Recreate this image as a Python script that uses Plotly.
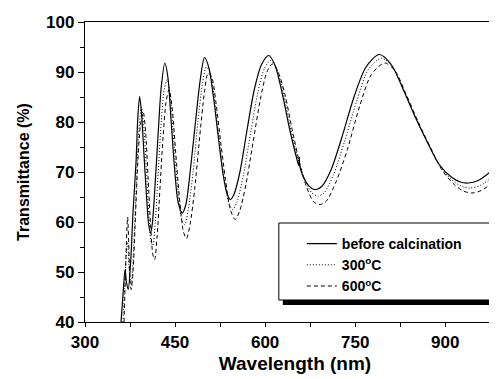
import plotly.graph_objects as go

# ---- data ----
wl_before = [360, 363, 366.7, 369, 372, 376, 380, 385, 388, 391, 394, 398, 402, 406, 409, 412, 417, 422, 427, 433,
             438, 443, 449, 455, 462, 468, 476, 484, 492, 499, 506, 514, 522, 530, 537, 542, 548, 558, 570, 582,
             594, 606, 616, 628, 640, 652, 656, 657, 658, 668, 678, 685, 695, 710, 728, 748, 768, 790, 810, 830,
             850, 870, 890, 910, 925, 938, 955, 975, 999]
t_before = [40, 45, 50.5, 48, 46.5, 52, 62, 72, 81, 85.1, 82, 74, 66, 59.5, 57.8, 59.5, 68, 78, 87, 91.8,
            89, 81, 71, 64, 61.8, 63.5, 71, 80, 88.5, 92.9, 91, 85, 77, 69.5, 65.5, 64.5, 65.5, 70, 78.5, 86.5,
            91.5, 93.3, 91.5, 86, 79, 73, 71.3, 73, 71, 68, 66.7, 66.5, 67.2, 70.5, 77, 85, 91, 93.5, 91.5, 86.5,
            81, 76, 71.5, 69, 68, 67.8, 68.3, 70, 72.5]

wl_300 = [363, 366, 369, 371, 374, 377, 381, 385, 389, 394, 398, 402, 406, 410, 413, 417, 422, 427, 432, 437,
          442, 448, 455, 461, 466, 472, 480, 488, 496, 502, 508, 515, 523, 531, 539, 546, 553, 564, 576, 588,
          599, 609, 618, 630, 642, 654, 666, 678, 688, 698, 714, 732, 752, 772, 794, 812, 832, 852, 872, 892,
          912, 928, 941, 958, 978, 999]
t_300 = [40, 47, 54, 56, 50, 47.5, 55, 66, 77, 83, 79, 71, 62, 56, 55.3, 60, 70, 80, 86.5, 88.5,
         85, 76, 66, 60.5, 59.5, 62.5, 70, 80, 88, 91, 90, 85, 77, 69.5, 64, 62.5, 64, 69.5, 78, 86,
         90.8, 92.3, 91, 86, 79, 73, 68.5, 65.8, 65.2, 65.8, 69.5, 76, 84, 90.5, 92.8, 91, 86, 80.5, 75.5, 71,
         68.3, 67.1, 66.8, 67.3, 69, 71.3]

wl_600 = [365, 367, 369, 371, 373, 375, 377, 380, 384, 388, 392, 397, 401, 405, 409, 413, 416, 420, 425, 430,
          435, 440, 445, 451, 458, 464, 469, 475, 483, 491, 499, 505, 511, 518, 526, 534, 542, 550, 557, 568,
          580, 592, 603, 612, 621, 633, 645, 657, 669, 681, 692, 702, 718, 737, 757, 777, 799, 816, 835, 855,
          875, 895, 915, 930, 944, 960, 980, 999]
t_600 = [40, 48, 56, 61, 55, 48, 46.5, 50, 61, 72, 79, 82, 78, 69, 60, 53.5, 52.5, 57, 67, 77,
         84, 86.5, 83, 74, 64, 58, 56.7, 59.5, 67, 77, 86, 89.8, 89, 84, 76, 68.5, 62.5, 60.5, 62, 67.5,
         76, 84.5, 90, 91.6, 90.2, 85.5, 78.5, 72, 67, 64, 63.5, 64.2, 68, 74.5, 83, 89.5, 91.8, 90.3, 85.5, 80,
         75, 70.3, 67.5, 66.2, 65.8, 66.3, 68, 70]

x_ticks = [300, 450, 600, 750, 900]
y_ticks = [40, 50, 60, 70, 80, 90, 100]

FONT = "Liberation Sans, Arial, Helvetica, sans-serif"

fig = go.Figure()
fig.add_trace(go.Scatter(x=wl_before, y=t_before, mode="lines", name="before calcination",
                         line=dict(color="black", width=1.2, shape="spline", smoothing=0.8)))
fig.add_trace(go.Scatter(x=wl_300, y=t_300, mode="lines", name="300<sup>o</sup>C",
                         line=dict(color="black", width=1, dash="1px,2px", shape="spline", smoothing=0.8)))
fig.add_trace(go.Scatter(x=wl_600, y=t_600, mode="lines", name="600<sup>o</sup>C",
                         line=dict(color="black", width=1, dash="4px,3px", shape="spline", smoothing=0.8)))

W, H = 497, 379
L, R, T, B = 77.3, 0, 14, 65
pw, ph = W - L - R, H - T - B

def px(xp):
    return (xp - L) / pw

def py(yp):
    return (H - B - yp) / ph

# legend frame + shadow
fig.add_shape(type="rect", xref="paper", yref="paper", x0=px(275), x1=px(491), y0=py(297), y1=py(219),
              fillcolor="black", line=dict(width=0), layer="above")
fig.add_shape(type="rect", xref="paper", yref="paper", x0=px(271), x1=px(487), y0=py(292), y1=py(215),
              fillcolor="white", line=dict(color="black", width=1), layer="above")

fig.update_layout(
    width=W, height=H,
    margin=dict(l=L, r=R, t=T, b=B, pad=0, autoexpand=False),
    paper_bgcolor="white", plot_bgcolor="white",
    font=dict(family=FONT, color="black", size=16, weight="bold"),
    showlegend=True,
    legend=dict(x=px(294), y=py(220), xanchor="left", yanchor="top",
                bgcolor="rgba(0,0,0,0)", borderwidth=0,
                font=dict(family=FONT, size=14, weight="bold", color="black"),
                tracegroupgap=0, itemwidth=30),
    xaxis=dict(range=[300, 999.5], tickvals=x_ticks, ticktext=[str(v) for v in x_ticks],
               automargin=False,
               showgrid=False, zeroline=False, showline=True, linecolor="black", linewidth=1.3,
               mirror=True, ticks="outside", ticklen=4, tickwidth=1, tickcolor="black",
               minor=dict(dtick=75, tick0=300, ticks="outside", ticklen=4, tickcolor="black"),
               tickfont=dict(family=FONT, size=17, weight="bold"),
               title=dict(text="Wavelength (nm)", font=dict(family=FONT, size=19, weight="bold"), standoff=6)),
    yaxis=dict(range=[40, 100], tickvals=y_ticks, ticktext=[str(v) for v in y_ticks],
               automargin=False,
               showgrid=False, zeroline=False, showline=True, linecolor="black", linewidth=1.3,
               mirror=False, ticks="outside", ticklen=6, tickwidth=1, tickcolor="black",
               minor=dict(dtick=5, tick0=40, ticks="outside", ticklen=4, tickcolor="black"),
               tickfont=dict(family=FONT, size=17, weight="bold"),
               title=dict(text="Transmittance (%)", font=dict(family=FONT, size=16, weight="bold"), standoff=12)),
)

fig.write_html("out.html")
